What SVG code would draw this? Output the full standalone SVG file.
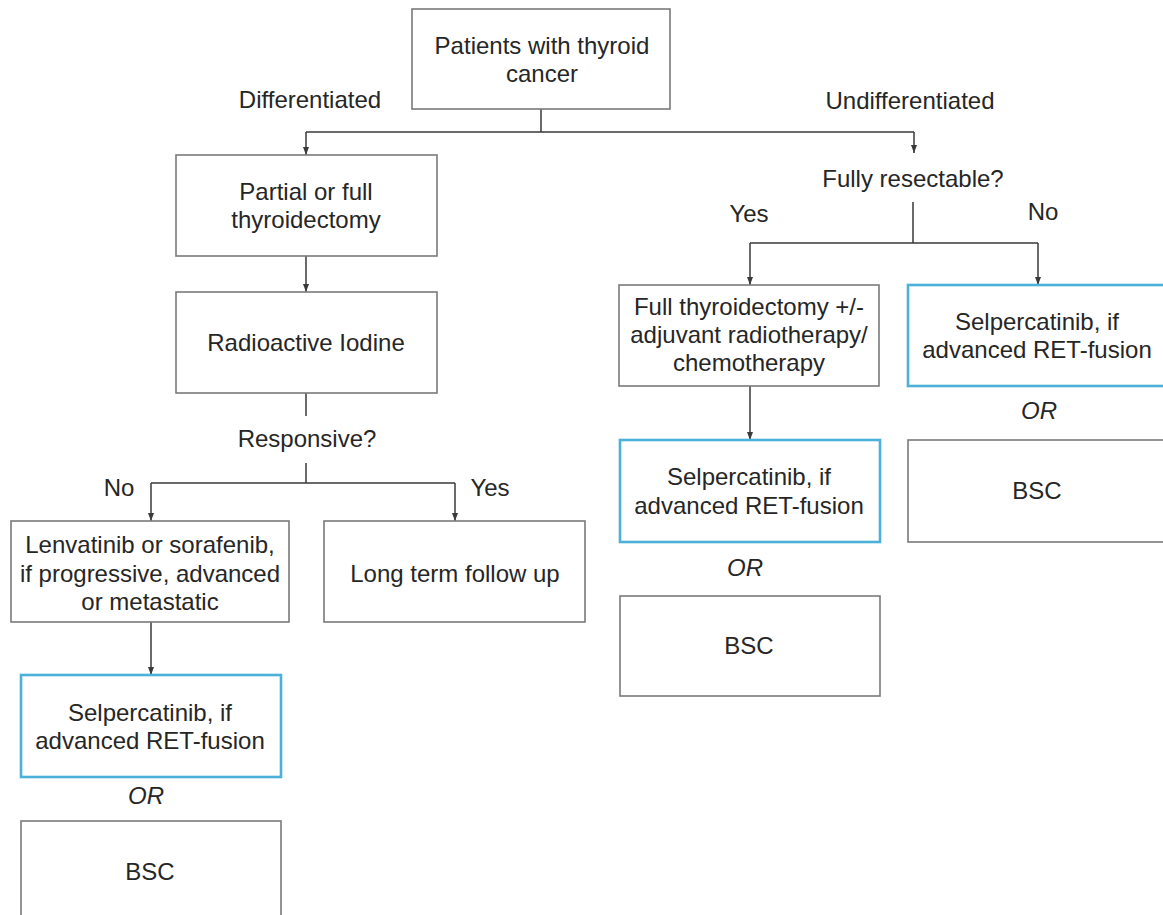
<svg xmlns="http://www.w3.org/2000/svg" width="1163" height="915" viewBox="0 0 1163 915">
<style>
text{font-family:"Liberation Sans",Arial,sans-serif;font-size:24px;fill:#262626;text-anchor:middle}
.box{fill:#fff;stroke:#7a7a7a;stroke-width:1.6}
.blue{fill:#fff;stroke:#4bb1d9;stroke-width:2.6}
.or{font-style:italic}
.con{fill:none;stroke:#3a3a3a;stroke-width:1.5}
</style>
<defs>
<marker id="ah" viewBox="0 0 8 8" refX="8" refY="4" markerWidth="8" markerHeight="8" markerUnits="userSpaceOnUse" orient="auto">
<path d="M0,1 L8,4 L0,7 Z" fill="#3a3a3a"/>
</marker>
</defs>
<rect width="1163" height="915" fill="#fff"/>
<g id="connectors">
<path class="con" d="M541,109 V132 M306,132 H914"/>
<path class="con" d="M306,132 V155" marker-end="url(#ah)"/>
<path class="con" d="M914,132 V153" marker-end="url(#ah)"/>
<path class="con" d="M306,256 V292" marker-end="url(#ah)"/>
<path class="con" d="M306,393 V416 M306,463 V483 M151,483 H455"/>
<path class="con" d="M151,483 V521" marker-end="url(#ah)"/>
<path class="con" d="M455,483 V521" marker-end="url(#ah)"/>
<path class="con" d="M151,622 V675" marker-end="url(#ah)"/>
<path class="con" d="M913,202 V243 M750,243 H1038"/>
<path class="con" d="M750,243 V285" marker-end="url(#ah)"/>
<path class="con" d="M1038,243 V285" marker-end="url(#ah)"/>
<path class="con" d="M750,386 V440" marker-end="url(#ah)"/>
</g>
<g id="labels">
<text x="310" y="108">Differentiated</text>
<text x="910" y="109">Undifferentiated</text>
<text x="307" y="447">Responsive?</text>
<text x="119" y="496">No</text>
<text x="490" y="496">Yes</text>
<text x="913" y="187">Fully resectable?</text>
<text x="749" y="222">Yes</text>
<text x="1043" y="220">No</text>
</g>
<g id="n-patients">
<rect class="box" x="412" y="9" width="258" height="100"/>
<text x="542" y="54">Patients with thyroid</text>
<text x="542" y="82">cancer</text>
</g>
<g id="n-partial">
<rect class="box" x="176" y="155" width="261" height="101"/>
<text x="306" y="200">Partial or full</text>
<text x="306" y="228">thyroidectomy</text>
</g>
<g id="n-rai">
<rect class="box" x="176" y="292" width="261" height="101"/>
<text x="306" y="351">Radioactive Iodine</text>
</g>
<g id="n-lenvatinib">
<rect class="box" x="11" y="521" width="278" height="101"/>
<text x="150" y="553">Lenvatinib or sorafenib,</text>
<text x="150" y="582">if progressive, advanced</text>
<text x="150" y="610">or metastatic</text>
</g>
<g id="n-followup">
<rect class="box" x="324" y="521" width="261" height="101"/>
<text x="455" y="582">Long term follow up</text>
</g>
<g id="n-selp-left">
<rect class="blue" x="21" y="675" width="260" height="102"/>
<text x="150" y="721">Selpercatinib, if</text>
<text x="150" y="749">advanced RET-fusion</text>
</g>
<text class="or" x="146" y="804">OR</text>
<g id="n-bsc-left">
<rect class="box" x="21" y="821" width="260" height="110"/>
<text x="150" y="880">BSC</text>
</g>
<g id="n-fullthyroid">
<rect class="box" x="619" y="285" width="260" height="101"/>
<text x="749" y="315">Full thyroidectomy +/-</text>
<text x="749" y="343">adjuvant radiotherapy/</text>
<text x="749" y="371">chemotherapy</text>
</g>
<g id="n-selp-right">
<rect class="blue" x="908" y="285" width="270" height="101"/>
<text x="1037" y="330">Selpercatinib, if</text>
<text x="1037" y="358">advanced RET-fusion</text>
</g>
<text class="or" x="1039" y="419">OR</text>
<g id="n-bsc-right">
<rect class="box" x="908" y="440" width="270" height="102"/>
<text x="1037" y="499">BSC</text>
</g>
<g id="n-selp-mid">
<rect class="blue" x="620" y="440" width="260" height="102"/>
<text x="749" y="485">Selpercatinib, if</text>
<text x="749" y="514">advanced RET-fusion</text>
</g>
<text class="or" x="745" y="576">OR</text>
<g id="n-bsc-mid">
<rect class="box" x="620" y="596" width="260" height="100"/>
<text x="749" y="654">BSC</text>
</g>
</svg>
